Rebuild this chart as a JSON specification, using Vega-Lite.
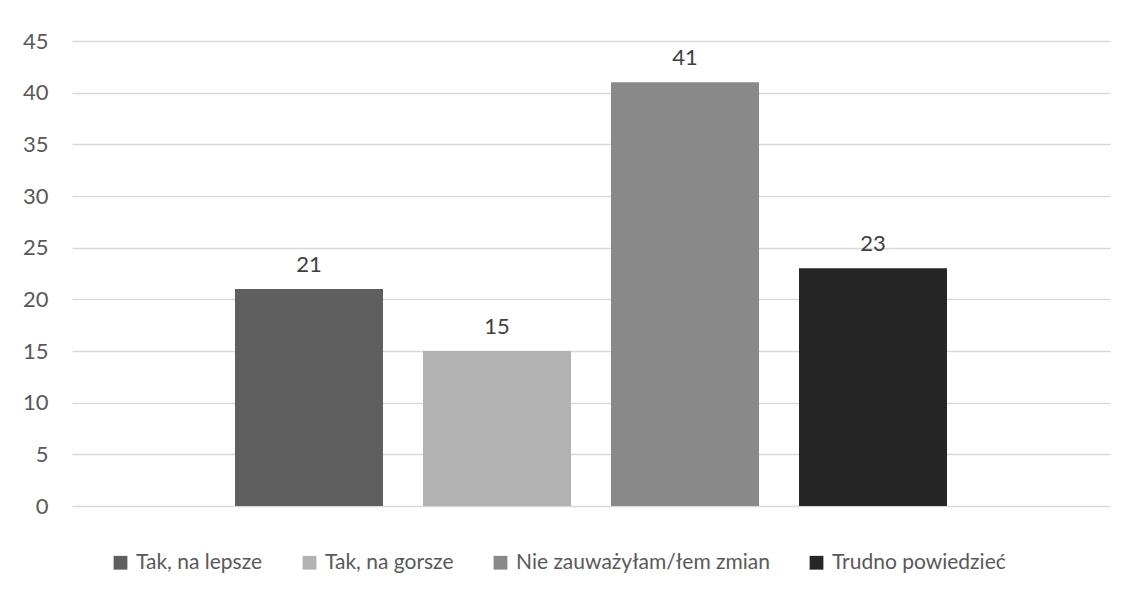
{
  "$schema": "https://vega.github.io/schema/vega-lite/v6.json",
  "width": 1038,
  "height": 465,
  "autosize": {"type": "none"},
  "padding": {"left": 72, "top": 41, "right": 19, "bottom": 84},
  "background": "white",
  "data": {
    "values": [
      {"kategoria": "Tak, na lepsze", "wartosc": 21},
      {"kategoria": "Tak, na gorsze", "wartosc": 15},
      {"kategoria": "Nie zauważyłam/łem zmian", "wartosc": 41},
      {"kategoria": "Trudno powiedzieć", "wartosc": 23}
    ]
  },
  "encoding": {
    "x": {
      "field": "kategoria",
      "type": "nominal",
      "sort": null,
      "scale": {"paddingInner": 0.2128, "paddingOuter": 0.867},
      "axis": null
    },
    "y": {
      "field": "wartosc",
      "type": "quantitative",
      "scale": {"domain": [0, 45], "nice": false},
      "axis": {
        "values": [0, 5, 10, 15, 20, 25, 30, 35, 40, 45],
        "title": null,
        "domain": false,
        "ticks": false,
        "labelPadding": 24,
        "labelFontSize": 22,
        "labelColor": "#595959",
        "labelFont": "Lato",
        "gridColor": "#d9d9d9",
        "gridWidth": 1.3
      }
    }
  },
  "layer": [
    {
      "mark": {"type": "bar"},
      "encoding": {
        "color": {
          "field": "kategoria",
          "type": "nominal",
          "sort": null,
          "scale": {"range": ["#5f5f5f", "#b2b2b2", "#898989", "#262626"]},
          "legend": {
            "orient": "bottom",
            "direction": "horizontal",
            "columns": 4,
            "title": null,
            "symbolType": "square",
            "symbolSize": 190,
            "symbolStrokeWidth": 0,
            "symbolOpacity": 1,
            "labelFontSize": 21,
            "labelFont": "Lato",
            "labelColor": "#595959",
            "labelLimit": 400,
            "columnPadding": 36,
            "labelOffset": 5,
            "padding": 38,
            "offset": 8
          }
        }
      }
    },
    {
      "mark": {"type": "text", "dy": -17, "baseline": "alphabetic", "fontSize": 22, "font": "Lato", "color": "#404040"},
      "encoding": {"text": {"field": "wartosc", "type": "quantitative"}}
    }
  ],
  "config": {"view": {"stroke": null}}
}
